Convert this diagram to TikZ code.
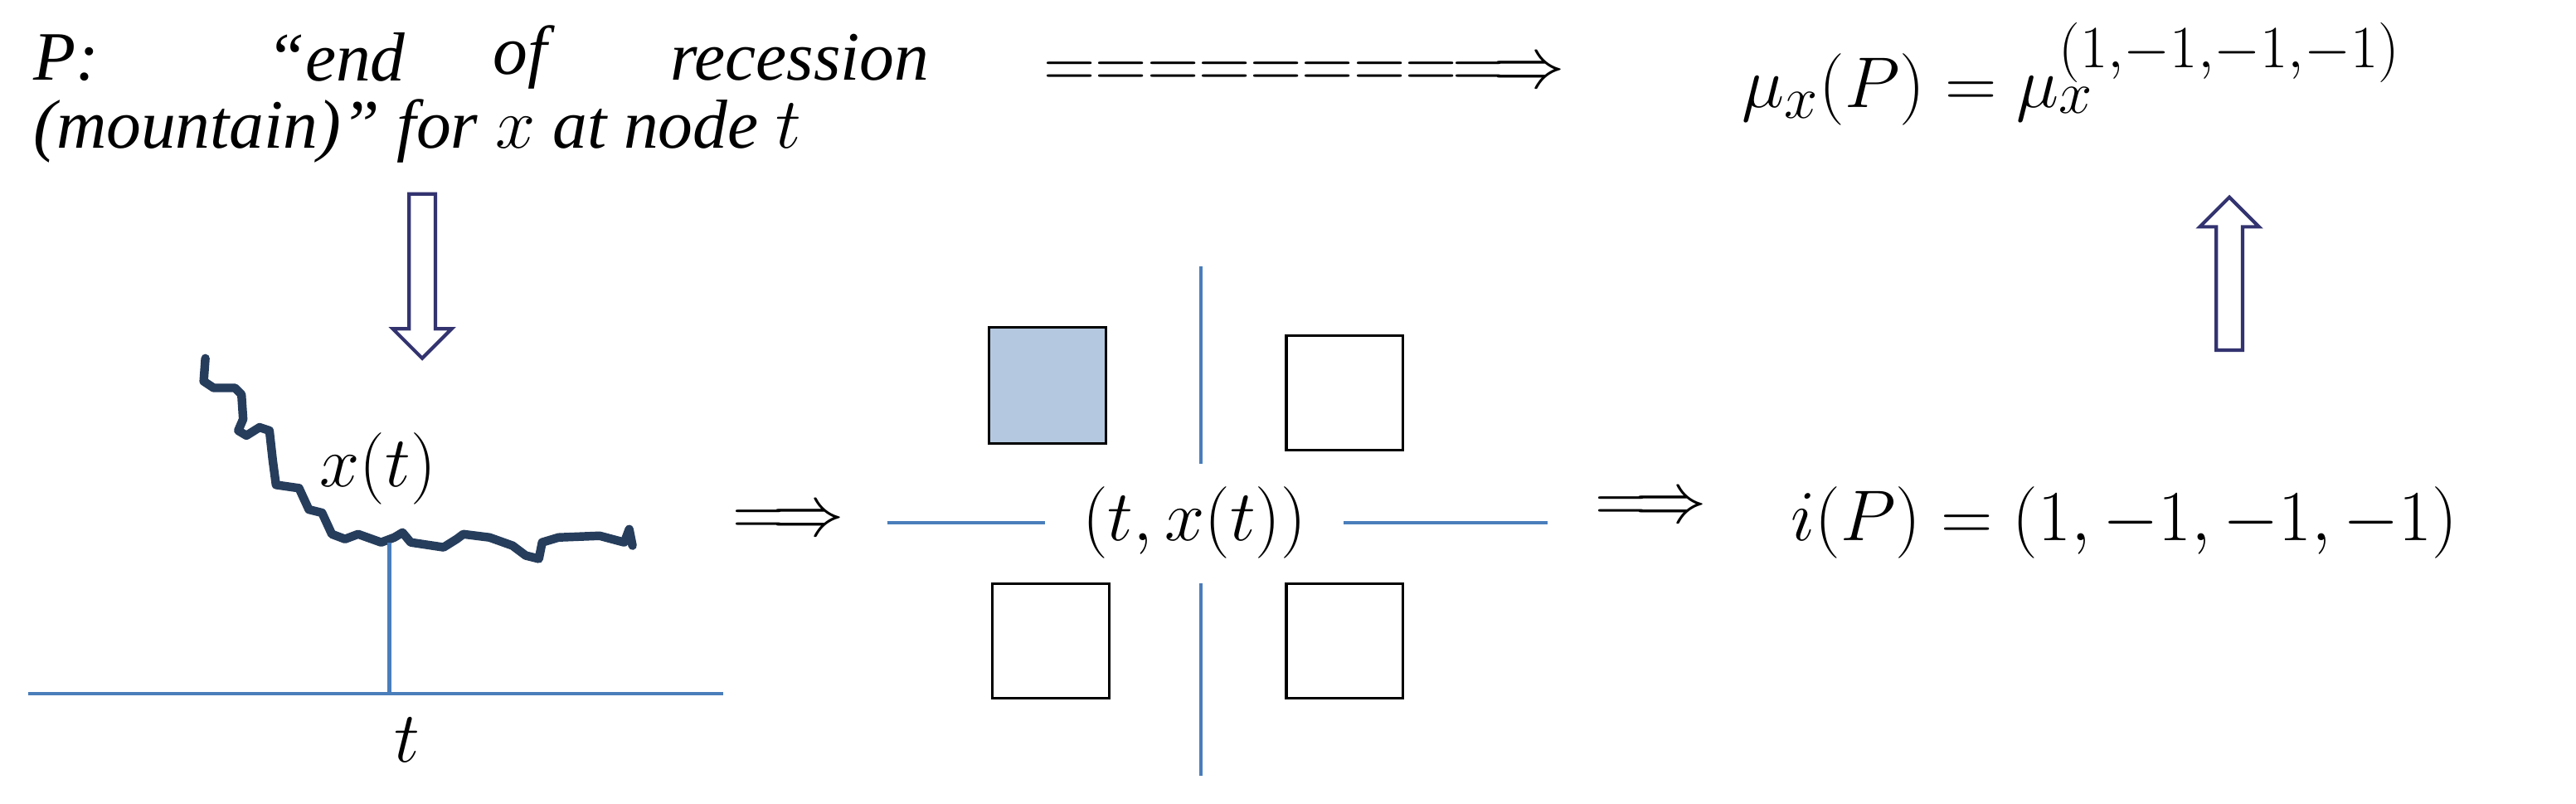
\documentclass[tikz,border=0pt]{standalone}
\usepackage{fontspec}
\setmainfont{Liberation Serif}
\begin{document}
\begin{tikzpicture}[x=0.02cm,y=-0.02cm,
  sq/.style={draw=black, line width=0.9pt},
  big/.style={font=\fontsize{29}{33}\selectfont, inner sep=0pt},
  itx/.style={font=\fontsize{24}{28}\selectfont\itshape, inner sep=0pt},
  hollow/.style={draw=black!60!blue!60!gray, line width=1.2pt, fill=white}]
\useasboundingbox (0,0) rectangle (1568,489);
\definecolor{lb}{HTML}{4A7EBB}
\definecolor{navy}{HTML}{263D5C}
\definecolor{fillb}{HTML}{B4C8E0}
% top text
\node[itx,anchor=west] (p1) at (20,35) {P:};
\node[itx,anchor=west] (p2) at (162,35) {“end};
\node[itx,anchor=west] (p3) at (300,35) {of};
\node[itx,anchor=east] (p4) at (566,35) {recession};
\node[itx,anchor=west] (p5) at (20,80) {(mountain)” for $x$ at node $t$};
\node[big,anchor=west,font=\fontsize{26}{30}\selectfont] (eq) at (635,45) {${=}{=}{=}{=}{=}{=}{=}{=}\!\!\Longrightarrow$};
\node[big,anchor=west] (mu) at (1060,45) {$\mu_x(P)=\mu_x^{\scriptstyle(1,-1,-1,-1)}$};
% hollow arrows
\draw[hollow] (249,118) -- (265,118) -- (265,200) -- (275,200) -- (257,218) -- (239,200) -- (249,200) -- cycle;
\draw[hollow] (1349,213) -- (1365,213) -- (1365,138) -- (1375,138) -- (1357,120) -- (1339,138) -- (1349,138) -- cycle;
% path
\draw[line width=3pt, draw=navy, line join=round, line cap=round]
 (125,218)--(124,232)--(130,236)--(143,236)--(147,240)--(148,255)--(145,262)--(150,265)--(158,260)--(164,262)--(166,280)--(168,295)--(182,297)--(188,310)--(196,312)--(202,325)--(210,328)--(218,325)--(232,330)--(240,327)--(245,324)--(250,330)--(270,333)--(278,328)--(282,325)--(298,327)--(312,332)--(320,338)--(328,340)--(330,330)--(340,327)--(365,326)--(380,330)--(383,322)--(385,332);
\node[big] (xt) at (230,285) {$x(t)$};
\coordinate (v1) at (237,330); \coordinate (v2) at (237,422);
\coordinate (h1) at (17,422); \coordinate (h2) at (440,422);
\draw[draw=lb, line width=1.3pt] (v1)--(v2) (h1)--(h2);
\node[big] (t) at (248,450) {$t$};
\node[big] (a1) at (480,318) {$\Longrightarrow$};
% squares
\draw[sq, fill=fillb] (602,199) rectangle (673,270);
\draw[sq] (783,204) rectangle (854,274);
\draw[sq] (604,355) rectangle (675,425);
\draw[sq] (783,355) rectangle (854,425);
\draw[draw=lb, line width=1.3pt] (731,162)--(731,282) (731,355)--(731,472) (540,318)--(636,318) (818,318)--(942,318);
\node[big] (tx) at (727,318) {$(t,x(t))$};
\node[big] (a2) at (1005,310) {$\Longrightarrow$};
\node[big,anchor=west] (ip) at (1090,318) {$i(P)=(1,-1,-1,-1)$};
\end{tikzpicture}
\end{document}
